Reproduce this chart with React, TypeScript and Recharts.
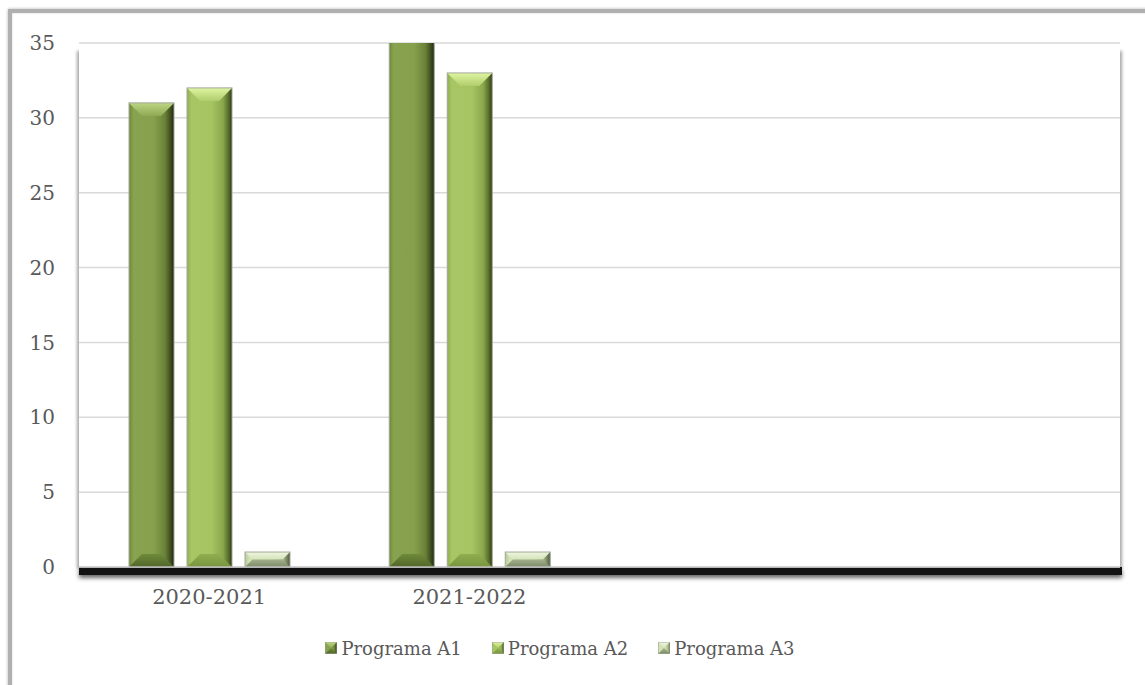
import { BarChart, Bar, XAxis, YAxis, CartesianGrid, Legend } from 'recharts'

const seasons = ['2020-2021', '2021-2022', '', '']
const programaA1 = [31, 36, null, null]
const programaA2 = [32, 33, null, null]
const programaA3 = [1, 1, null, null]
const yTicks = [0, 5, 10, 15, 20, 25, 30, 35]
const seriesNames = ['Programa A1', 'Programa A2', 'Programa A3']

const data = seasons.map((s, i) => ({
  season: s,
  a1: programaA1[i],
  a2: programaA2[i],
  a3: programaA3[i],
}))

const FONT = '"DejaVu Serif", serif'

type Tone = {
  id: string
  body: [number, string][]
  top: [string, string]
  bot: [string, string]
}

const tones: Tone[] = [
  {
    id: 'a1',
    body: [[0, '#6e8838'], [0.1, '#88a350'], [0.55, '#86a04e'], [0.8, '#6a8238'], [0.93, '#3d4b1f'], [1, '#1f260f']],
    top: ['#bdd683', '#8fa955'],
    bot: ['#6f8a3a', '#52662a'],
  },
  {
    id: 'a2',
    body: [[0, '#8fae50'], [0.1, '#a8c664'], [0.55, '#a6c462'], [0.8, '#8aa74c'], [0.93, '#556a2a'], [1, '#2c3715']],
    top: ['#dff5a2', '#b0cd6c'],
    bot: ['#8fae4f', '#78953f'],
  },
  {
    id: 'a3',
    body: [[0, '#b8c99a'], [0.1, '#d3e3b5'], [0.6, '#d0e0b0'], [0.85, '#a8b78c'], [1, '#4f5840']],
    top: ['#edf5dc', '#d6e5bb'],
    bot: ['#a3b08c', '#7d8a69'],
  },
]

function Gradients() {
  return (
    <defs>
      {tones.map((t) => (
        <g key={t.id}>
          <linearGradient id={`${t.id}-body`} x1="0" y1="0" x2="1" y2="0">
            {t.body.map(([o, c]) => (
              <stop key={o} offset={o} stopColor={c} />
            ))}
          </linearGradient>
          <linearGradient id={`${t.id}-top`} x1="0" y1="0" x2="0" y2="1">
            <stop offset={0} stopColor={t.top[0]} />
            <stop offset={1} stopColor={t.top[1]} />
          </linearGradient>
          <linearGradient id={`${t.id}-bot`} x1="0" y1="0" x2="0" y2="1">
            <stop offset={0} stopColor={t.bot[0]} />
            <stop offset={1} stopColor={t.bot[1]} />
          </linearGradient>
        </g>
      ))}
    </defs>
  )
}

function bevel(x: number, y: number, w: number, h: number, tone: Tone, maxB: number) {
  const b = Math.max(0, Math.min(maxB, h / 2, w / 2))
  return (
    <g>
      <rect x={x} y={y} width={w} height={h} fill={`url(#${tone.id}-body)`} />
      <polygon
        points={`${x},${y} ${x + w},${y} ${x + w - b},${y + b} ${x + b},${y + b}`}
        fill={`url(#${tone.id}-top)`}
      />
      <polygon
        points={`${x},${y + h} ${x + w},${y + h} ${x + w - b},${y + h - b} ${x + b},${y + h - b}`}
        fill={`url(#${tone.id}-bot)`}
      />
      <rect x={x} y={y} width={w} height={h} fill="none" stroke="#a3a89a" strokeWidth={1} />
    </g>
  )
}

function makeShape(tone: Tone) {
  return (props: any) => {
    const { x, y, width, height } = props
    if (!height || height <= 0) return <g />
    return bevel(x, y, width, height, tone, 13)
  }
}

function LegendBox() {
  return (
    <div
      style={{
        display: 'flex',
        justifyContent: 'center',
        alignItems: 'center',
        fontFamily: FONT,
        fontSize: 18,
        color: '#595959',
        height: 30,
      }}
    >
      {seriesNames.map((name, i) => (
        <div
          key={name}
          style={{ display: 'flex', alignItems: 'center', marginRight: i < seriesNames.length - 1 ? 30 : 0 }}
        >
          <svg width={12} height={12} style={{ marginRight: 4 }}>
            <Gradients />
            {bevel(0, 0, 12, 12, tones[i], 6)}
          </svg>
          <span>{name}</span>
        </div>
      ))}
    </div>
  )
}

export default function App() {
  return (
    <div
      style={{
        position: 'fixed',
        left: 0,
        top: 0,
        width: 1145,
        height: 685,
        background: '#fff',
        overflow: 'hidden',
      }}
    >
      <div
        style={{
          position: 'absolute',
          left: 8,
          top: 9,
          width: 1170,
          height: 720,
          border: '4px solid #b0b0b0',
          boxShadow: '0 0 3px rgba(0,0,0,0.3), inset 0 0 2px rgba(0,0,0,0.2)',
        }}
      />
      <div
        style={{
          position: 'absolute',
          left: 79,
          top: 47,
          width: 1041,
          height: 520,
          background: '#fff',
          boxShadow: '-3px 3px 3px -1px rgba(0,0,0,0.35), 3px 3px 3px -1px rgba(0,0,0,0.35)',
        }}
      />
      <div
        style={{
          position: 'absolute',
          left: 79,
          top: 567,
          width: 1043,
          height: 8,
          background: '#121212',
          boxShadow: '0 3px 4px rgba(0,0,0,0.6)',
        }}
      />
      <BarChart
        width={1145}
        height={685}
        data={data}
        margin={{ top: 43, right: 25, bottom: 22, left: 0 }}
        barSize={45}
        barGap={13}
        style={{ position: 'absolute', left: 0, top: 0, fontFamily: FONT }}
      >
        <Gradients />
        <CartesianGrid vertical={false} stroke="#d9d9d9" strokeWidth={1.5} />
        <XAxis
          dataKey="season"
          height={66}
          tickLine={false}
          axisLine={{ stroke: '#c8c8c8', strokeWidth: 1 }}
          tickMargin={16}
          tick={{ fill: '#595959', fontSize: 21, fontFamily: FONT }}
          interval={0}
        />
        <YAxis
          type="number"
          domain={[0, 35]}
          ticks={yTicks}
          allowDataOverflow
          width={79}
          tickLine={false}
          axisLine={false}
          tickSize={0}
          tickMargin={24}
          tick={{ fill: '#595959', fontSize: 20, fontFamily: FONT }}
        />
        <Legend verticalAlign="bottom" content={() => <LegendBox />} />
        <Bar dataKey="a1" name={seriesNames[0]} shape={makeShape(tones[0])} isAnimationActive={false} />
        <Bar dataKey="a2" name={seriesNames[1]} shape={makeShape(tones[1])} isAnimationActive={false} />
        <Bar dataKey="a3" name={seriesNames[2]} shape={makeShape(tones[2])} isAnimationActive={false} />
      </BarChart>
    </div>
  )
}
